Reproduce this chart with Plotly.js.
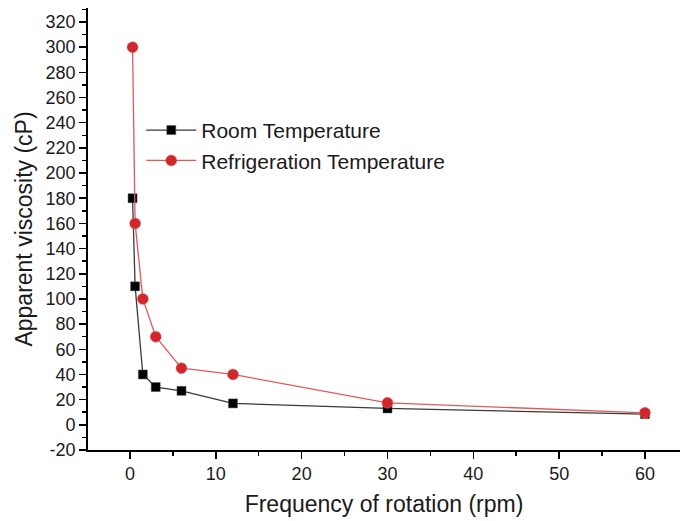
<!DOCTYPE html>
<html>
<head>
<meta charset="utf-8">
<script src="https://cdn.plot.ly/plotly-3.0.1.min.js"></script>
<style>html,body{margin:0;padding:0;background:#fff;}#chart{width:680px;height:521px;}</style>
</head>
<body>
<div id="chart"></div>
<script>
const rpm = [0.3, 0.6, 1.5, 3, 6, 12, 30, 60];
const roomTemp = [180, 110, 40, 30, 27, 17, 13, 8.5];
const refrigTemp = [300, 160, 100, 70, 45, 40, 17.5, 9.5];
const seriesNames = ['Room Temperature', 'Refrigeration Temperature'];
const xTicks = [0, 10, 20, 30, 40, 50, 60];
const yTicks = [-20, 0, 20, 40, 60, 80, 100, 120, 140, 160, 180, 200, 220, 240, 260, 280, 300, 320];

const font = 'Liberation Sans, Arial, sans-serif';

const traces = [
  {
    x: rpm, y: roomTemp, name: seriesNames[0], type: 'scatter', mode: 'lines+markers',
    line: {color: '#3a3a3a', width: 1.3},
    marker: {symbol: 'square', size: 9, color: '#000000', line: {color: '#555', width: 0.5}}
  },
  {
    x: rpm, y: refrigTemp, name: seriesNames[1], type: 'scatter', mode: 'lines+markers',
    line: {color: '#de5a5a', width: 1.3},
    marker: {symbol: 'circle', size: 11, color: '#d0262c', line: {color: '#e07070', width: 0.5}}
  }
];

const layout = {
  width: 680, height: 521,
  margin: {l: 88, r: 0, t: 8, b: 71},
  paper_bgcolor: '#ffffff', plot_bgcolor: '#ffffff',
  font: {family: font, color: '#1a1a1a'},
  showlegend: true,
  legend: {
    x: 0.09, y: 0.689, xanchor: 'left', yanchor: 'middle',
    font: {family: font, size: 21, color: '#1a1a1a'},
    itemwidth: 50, tracegroupgap: 0, bgcolor: 'rgba(0,0,0,0)'
  },
  xaxis: {
    range: [-4.89, 64.08],
    tickvals: xTicks, ticktext: xTicks.map(String),
    ticks: 'outside', ticklen: 7, tickwidth: 1.5, tickcolor: '#000',
    minor: {dtick: 5, tick0: 0, ticks: 'outside', ticklen: 4, tickwidth: 1.5, tickcolor: '#000'},
    showline: true, linecolor: '#000', linewidth: 1.8,
    showgrid: false, zeroline: false,
    tickfont: {family: font, size: 18, color: '#1a1a1a'},
    title: {text: 'Frequency of rotation (rpm)', font: {family: font, size: 23, color: '#1a1a1a'}, standoff: 12}
  },
  yaxis: {
    range: [-20, 331.1],
    tickvals: yTicks, ticktext: yTicks.map(String),
    ticks: 'outside', ticklen: 7, tickwidth: 1.5, tickcolor: '#000',
    minor: {dtick: 10, tick0: 0, ticks: 'outside', ticklen: 4, tickwidth: 1.5, tickcolor: '#000'},
    showline: true, linecolor: '#000', linewidth: 1.8,
    showgrid: false, zeroline: false,
    tickfont: {family: font, size: 18, color: '#1a1a1a'},
    title: {text: 'Apparent viscosity (cP)', font: {family: font, size: 23, color: '#1a1a1a'}, standoff: 6}
  }
};

Plotly.newPlot('chart', traces, layout, {displayModeBar: false, staticPlot: true});
</script>
</body>
</html>
